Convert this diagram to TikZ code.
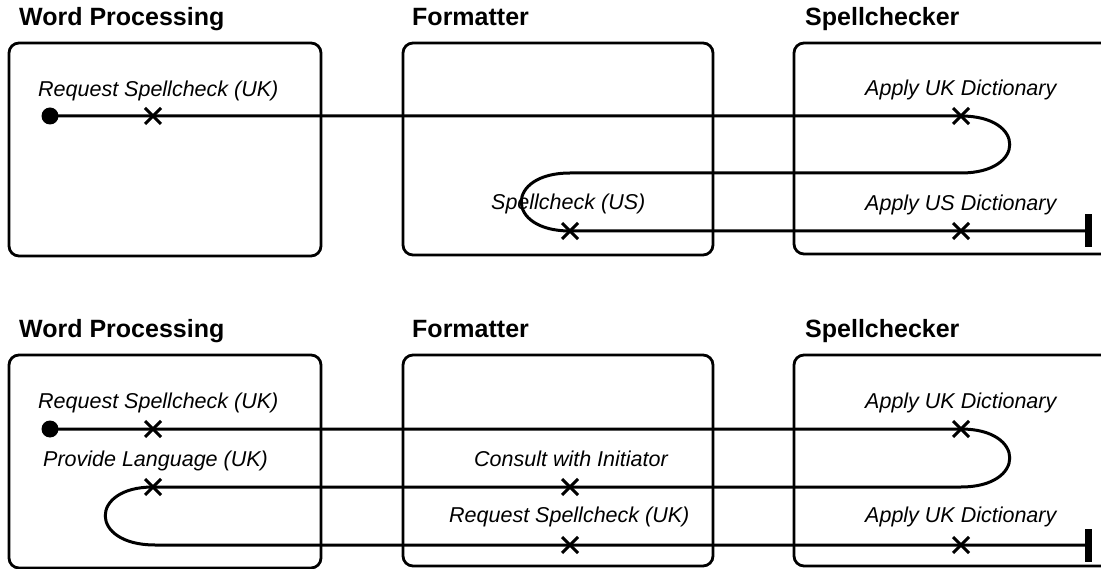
\documentclass[tikz,border=0pt]{standalone}
\usepackage{fontspec}
\setmainfont{Liberation Sans}
\usetikzlibrary{shapes.misc}
\begin{document}
\begin{tikzpicture}[x=1pt,y=-1pt,
  lane/.style={draw=black,line width=2.8pt,rounded corners=10pt},
  title/.style={anchor=base west,inner sep=0pt,font=\fontsize{25}{28}\selectfont\bfseries},
  lbl/.style={anchor=base west,inner sep=0pt,font=\fontsize{21.5}{24}\selectfont\itshape},
  flow/.style={draw=black,line width=3pt},
  xmark/.style={draw=black,cross out,line width=3pt,minimum size=13pt,inner sep=0pt},
  startdot/.style={circle,fill=black,minimum size=17pt,inner sep=0pt},
  endbar/.style={fill=black,minimum width=7pt,minimum height=33pt,inner sep=0pt}]
\useasboundingbox (0,0) rectangle (1101,569);
\clip (0,0) rectangle (1101,569);
% ---------- top diagram ----------
\node[title] (t1) at (19,26) {Word Processing};
\node[title] (t2) at (412,26) {Formatter};
\node[title] (t3) at (805,26) {Spellchecker};
\draw[lane] (9,43) rectangle (321,256);
\draw[lane] (403,43) rectangle (713,255);
\draw[lane] (794,43) rectangle (1120,254);
\node[lbl] (l1) at (38,97) {Request Spellcheck (UK)};
\node[lbl] (l2) at (865,96) {Apply UK Dictionary};
\node[lbl] (l3) at (491,210) {Spellcheck (US)};
\node[lbl] (l4) at (865,211) {Apply US Dictionary};
\node[startdot] (s1) at (50,116) {};
\node[xmark] (a1) at (153,116) {};
\node[xmark] (a2) at (961,116) {};
\coordinate (r1) at (961,173);
\coordinate (r2) at (570,173);
\node[xmark] (a3) at (570,231) {};
\node[xmark] (a4) at (961,231) {};
\node[endbar] (e1) at (1088,231) {};
\draw[flow] (s1.center) -- (a1.center) -- (a2.center)
  .. controls (1026,116) and (1026,173) .. (r1) -- (r2)
  .. controls (505,173) and (505,231) .. (a3.center) -- (a4.center) -- (e1.center);
% ---------- bottom diagram ----------
\node[title] (u1) at (19,338) {Word Processing};
\node[title] (u2) at (412,338) {Formatter};
\node[title] (u3) at (805,338) {Spellchecker};
\draw[lane] (9,355) rectangle (321,568);
\draw[lane] (403,355) rectangle (713,566);
\draw[lane] (794,355) rectangle (1120,566);
\node[lbl] (m1) at (38,408) {Request Spellcheck (UK)};
\node[lbl] (m2) at (865,408) {Apply UK Dictionary};
\node[lbl] (m3) at (43,466) {Provide Language (UK)};
\node[lbl] (m4) at (474,466) {Consult with Initiator};
\node[lbl] (m5) at (449,522) {Request Spellcheck (UK)};
\node[lbl] (m6) at (865,522) {Apply UK Dictionary};
\node[startdot] (s2) at (50,429) {};
\node[xmark] (b1) at (153,429) {};
\node[xmark] (b2) at (961,429) {};
\coordinate (q1) at (961,487);
\node[xmark] (b3) at (570,487) {};
\node[xmark] (b4) at (153,487) {};
\coordinate (q2) at (155,545);
\node[xmark] (b5) at (570,545) {};
\node[xmark] (b6) at (961,545) {};
\node[endbar] (e2) at (1088,545) {};
\draw[flow] (s2.center) -- (b1.center) -- (b2.center)
  .. controls (1026,429) and (1026,487) .. (q1) -- (b3.center) -- (b4.center)
  .. controls (89,487) and (89,545) .. (q2) -- (b5.center) -- (b6.center) -- (e2.center);
\end{tikzpicture}
\end{document}
